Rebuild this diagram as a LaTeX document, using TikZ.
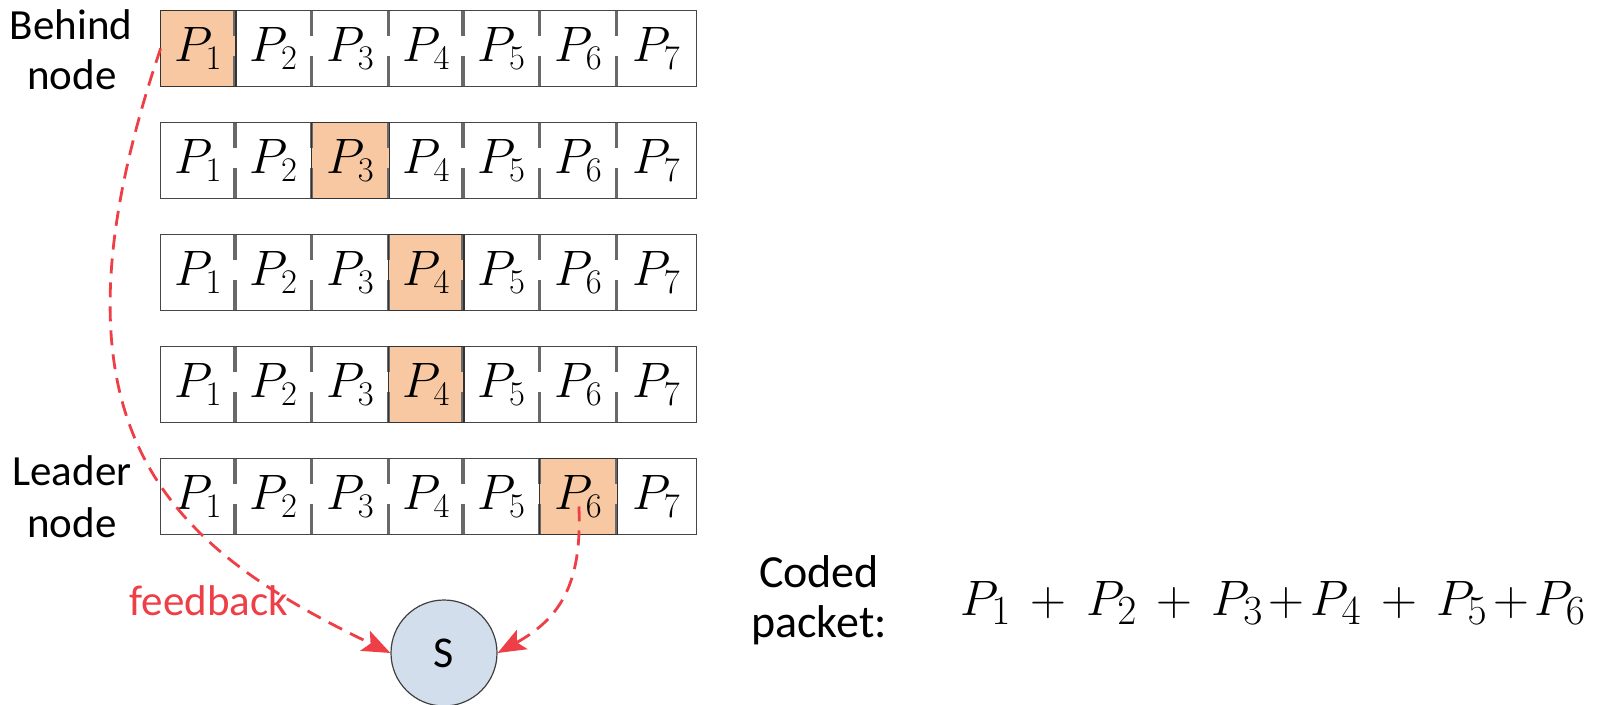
\documentclass[tikz,border=0pt]{standalone}
\usepackage{fontspec}
\setmainfont{Carlito}
\usetikzlibrary{arrows.meta,backgrounds}
\definecolor{hl}{RGB}{248,200,162}
\definecolor{sfill}{RGB}{211,222,236}
\definecolor{fbred}{RGB}{238,62,70}
\definecolor{boxline}{RGB}{70,70,70}
\definecolor{divgray}{RGB}{105,105,105}
\begin{document}
\begin{tikzpicture}[x=0.5pt,y=-0.5pt,
  cell/.style={inner sep=0pt, minimum height=37.5pt, font=\fontsize{25}{30}\selectfont},
  boxframe/.style={draw=boxline, line width=0.7pt},
  divline/.style={draw=divgray, line width=1.7pt},
  hlframe/.style={draw=black!80, line width=0.8pt},
  lbl/.style={inner sep=0pt, font=\fontsize{21.5}{24}\selectfont},
  fblbl/.style={inner sep=0pt, text=fbred, font=\fontsize{21.5}{24}\selectfont},
  cplbl/.style={inner sep=0pt, font=\fontsize{23}{26}\selectfont},
  fb/.style={draw=fbred, line width=1.4pt, dash pattern=on 7.5pt off 4.5pt,
    -{Stealth[length=14pt,width=11pt,inset=3pt]}},
  src/.style={circle, draw=black!75, line width=0.6pt, fill=sfill, minimum size=53pt,
    inner sep=0pt, font=\fontsize{22}{24}\selectfont}]
\useasboundingbox (0,0) rectangle (1616,705);
\def\bx{{161,235.5,312,389,463.5,540,617,696}}
\foreach \r/\t/\h in {1/11/1,2/123/3,3/235/4,4/347/4,5/459/6}{
  \foreach \c in {1,...,7}{
    \pgfmathsetmacro\xl{\bx[\c-1]}
    \pgfmathsetmacro\xr{\bx[\c]}
    \pgfmathsetmacro\w{(\xr-\xl)/2}
    \node[cell, minimum width=\w pt] (c\r\c) at ({(\xl+\xr)/2},{\t+37.5}) {$P_{\c}$};
  }
  \begin{scope}[on background layer]
    \fill[hl] (c\r\h.north west) rectangle (c\r\h.south east);
  \end{scope}
  \draw[boxframe] (c\r1.north west) rectangle (c\r7.south east);
  \foreach \c in {2,...,7}{
    \draw[divline] (c\r\c.north west) -- ++(0,25);
    \draw[divline] (c\r\c.south west) -- ++(0,-30);
  }
  \draw[hlframe] (c\r\h.north west) rectangle (c\r\h.south east);
}
\node[lbl, anchor=base] (behind) at (71,40) {Behind};
\node[lbl, anchor=base] (behindb) at (72,90) {node};
\node[lbl, anchor=base] (leader) at (72,485) {Leader};
\node[lbl, anchor=base] (leaderb) at (72,537) {node};
\node[src] (S) at (444,653) {S};
\node[fblbl, anchor=base] (fbtext) at (209,615) {feedback};
\node[cplbl, anchor=base] (coded) at (819,587) {Coded};
\node[cplbl, anchor=base] (packet) at (819,637) {packet:};
\node[inner sep=0pt, anchor=base, font=\fontsize{28}{32}\selectfont] (formula) at (1273,615)
  {$P_1 \mathbin{\,+\,} P_2 \mathbin{\,+\,} P_3\mkern2mu{+}\mkern2mu P_4 \mathbin{\,+\,} P_5\mkern2mu{+}\mkern2mu P_6$};
\draw[fb] (c11.west) .. controls (32,428) and (166,545) .. (S.west);
\draw[fb, shorten <=5pt] (c56.center) .. controls (582,580) and (563,617) .. (S.east);
\end{tikzpicture}
\end{document}
